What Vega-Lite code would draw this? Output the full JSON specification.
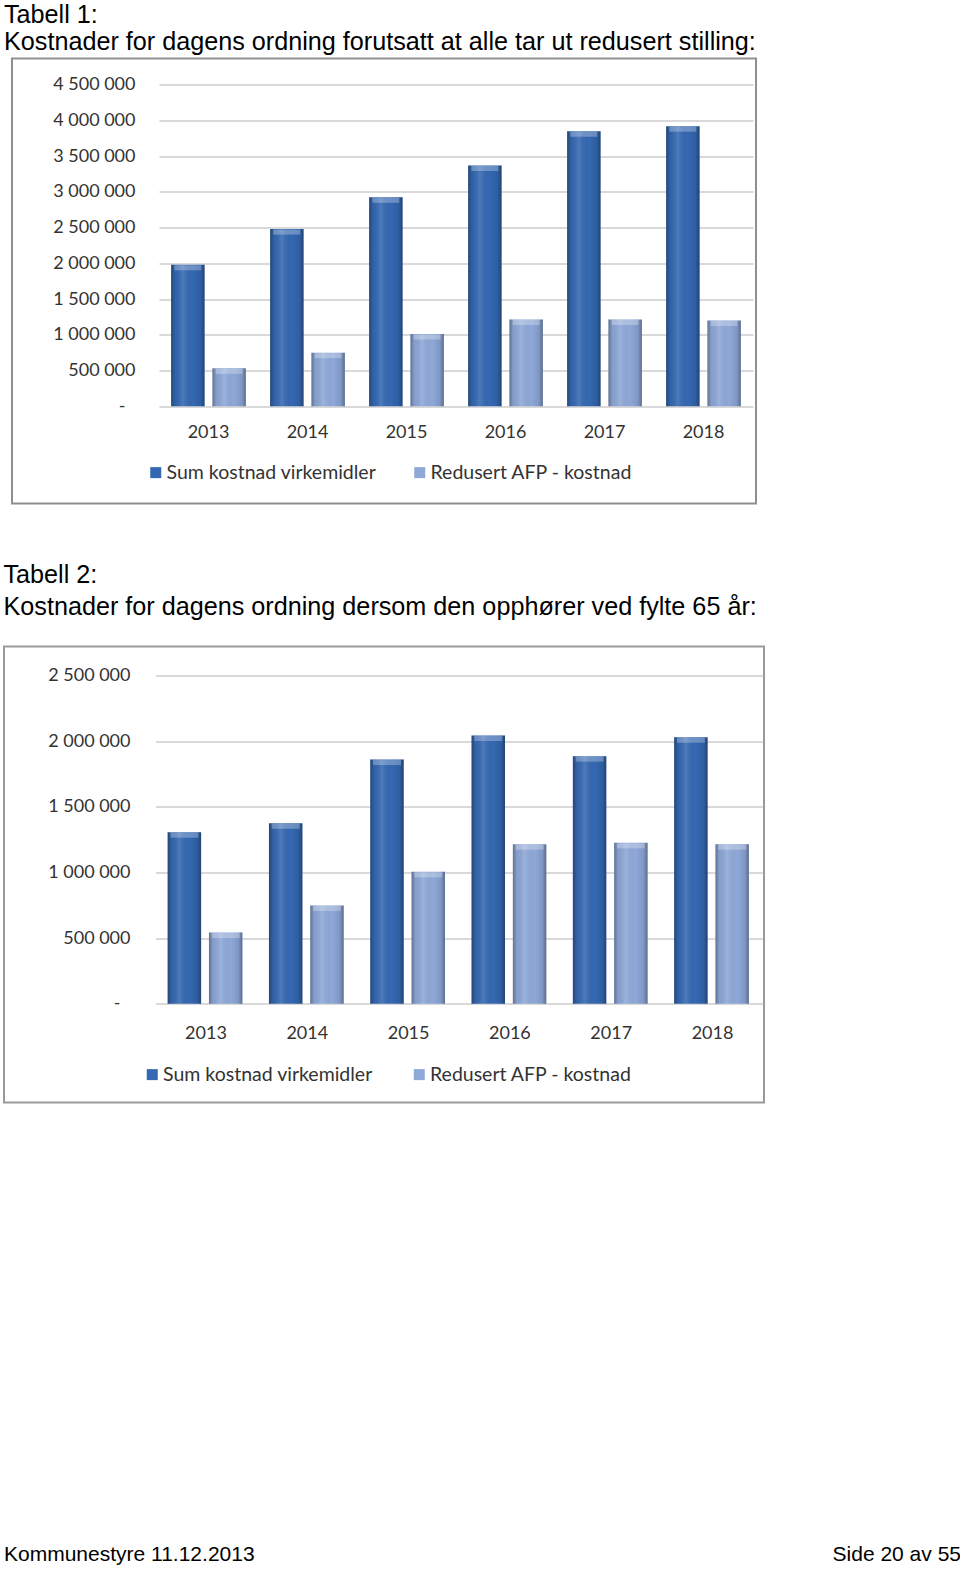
{
  "$schema": "https://vega.github.io/schema/vega-lite/v6.json",
  "background": "white",
  "padding": {"left": 2, "top": 1.5, "right": 0, "bottom": 0},
  "config": {
    "view": {"stroke": null},
    "locale": {"number": {"decimal": ",", "thousands": " ", "grouping": [3], "currency": ["", ""]}},
    "title": {"font": "Liberation Sans", "fontWeight": "normal", "color": "#000000", "anchor": "start", "frame": "group"},
    "axis": {"labelFont": "Lato", "labelFontSize": 18, "labelColor": "#333333"},
    "legend": {"labelFont": "Lato", "labelFontSize": 19.5, "labelColor": "#333333", "labelLimit": 400, "padding": 0}
  },
  "datasets": {
    "t1": [
      {"year": "2013", "series": "Sum kostnad virkemidler", "value": 1980000},
      {"year": "2013", "series": "Redusert AFP - kostnad", "value": 530000},
      {"year": "2014", "series": "Sum kostnad virkemidler", "value": 2480000},
      {"year": "2014", "series": "Redusert AFP - kostnad", "value": 750000},
      {"year": "2015", "series": "Sum kostnad virkemidler", "value": 2925000},
      {"year": "2015", "series": "Redusert AFP - kostnad", "value": 1010000},
      {"year": "2016", "series": "Sum kostnad virkemidler", "value": 3370000},
      {"year": "2016", "series": "Redusert AFP - kostnad", "value": 1215000},
      {"year": "2017", "series": "Sum kostnad virkemidler", "value": 3850000},
      {"year": "2017", "series": "Redusert AFP - kostnad", "value": 1215000},
      {"year": "2018", "series": "Sum kostnad virkemidler", "value": 3920000},
      {"year": "2018", "series": "Redusert AFP - kostnad", "value": 1200000}
    ],
    "t2": [
      {"year": "2013", "series": "Sum kostnad virkemidler", "value": 1307000},
      {"year": "2013", "series": "Redusert AFP - kostnad", "value": 543000},
      {"year": "2014", "series": "Sum kostnad virkemidler", "value": 1375000},
      {"year": "2014", "series": "Redusert AFP - kostnad", "value": 749000},
      {"year": "2015", "series": "Sum kostnad virkemidler", "value": 1860000},
      {"year": "2015", "series": "Redusert AFP - kostnad", "value": 1005000},
      {"year": "2016", "series": "Sum kostnad virkemidler", "value": 2043000},
      {"year": "2016", "series": "Redusert AFP - kostnad", "value": 1215000},
      {"year": "2017", "series": "Sum kostnad virkemidler", "value": 1886000},
      {"year": "2017", "series": "Redusert AFP - kostnad", "value": 1226000},
      {"year": "2018", "series": "Sum kostnad virkemidler", "value": 2030000},
      {"year": "2018", "series": "Redusert AFP - kostnad", "value": 1215000}
    ],
    "footer": [
      {"pos": "left", "label": "Kommunestyre 11.12.2013"},
      {"pos": "right", "label": "Side 20 av 55"}
    ]
  },
  "bounds": "full",
  "spacing": 439,
  "vconcat": [
    {
      "center": true,
      "bounds": "flush",
      "spacing": 143,
      "resolve": {"scale": {"color": "independent"}, "legend": {"color": "independent"}},
      "vconcat": [
        {
          "width": 744,
          "height": 445,
          "view": {"stroke": "#8f8f8f", "strokeWidth": 2},
          "title": {"text": ["Tabell 1:", "Kostnader for dagens ordning forutsatt at alle tar ut redusert stilling:"], "fontSize": 25.2, "lineHeight": 27.6, "dx": -8, "offset": 3},
          "data": {"name": "t1"},
          "encoding": {
            "x": {"field": "year", "type": "nominal", "scale": {"range": [147, 741], "paddingInner": 0.245, "paddingOuter": 0.1225},
                  "axis": {"title": null, "orient": "bottom", "offset": -80, "domain": false, "ticks": false, "tickSize": 0, "labelPadding": 0, "labelAngle": 0, "grid": false}},
            "xOffset": {"field": "series", "type": "nominal", "sort": ["Sum kostnad virkemidler", "Redusert AFP - kostnad"], "scale": {"paddingInner": 0.19}},
            "y": {"field": "value", "type": "quantitative", "scale": {"domain": [0, 4500000], "range": [347.7, 26.3], "nice": false},
                  "axis": {"title": null, "values": [0, 500000, 1000000, 1500000, 2000000, 2500000, 3000000, 3500000, 4000000, 4500000], "format": ",d",
                           "labelExpr": "datum.value === 0 ? '-' : datum.label", "offset": -123, "domain": false, "ticks": false, "tickSize": 0,
                           "labelPadding": {"condition": {"test": "datum.value === 0", "value": 10}, "value": 0},
                           "grid": true, "gridColor": "#b3b3b3", "gridWidth": 1}}
          },
          "layer": [
            {
              "mark": {"type": "bar"},
              "encoding": {
                "color": {"field": "series", "type": "nominal", "sort": ["Sum kostnad virkemidler", "Redusert AFP - kostnad"],
                          "scale": {"range": ["#3468b2", "#8ea8d8"]},
                          "legend": {"title": null, "orient": "none", "legendX": 134, "legendY": 404, "direction": "horizontal", "symbolType": "square", "symbolSize": 121, "columnPadding": 33, "labelOffset": 1, "symbolStrokeWidth": 0}}
              }
            },
            {
              "mark": {"type": "bar", "fill": {"gradient": "linear", "x1": 0, "x2": 1, "y1": 0, "y2": 0,
                "stops": [
                  {"offset": 0, "color": "rgba(0,0,0,0.32)"},
                  {"offset": 0.12, "color": "rgba(0,0,0,0.06)"},
                  {"offset": 0.35, "color": "rgba(255,255,255,0.12)"},
                  {"offset": 0.65, "color": "rgba(0,0,0,0)"},
                  {"offset": 0.88, "color": "rgba(0,0,0,0.1)"},
                  {"offset": 1, "color": "rgba(0,0,0,0.35)"}
                ]}}
            },
            {
              "mark": {"type": "tick", "orient": "horizontal", "thickness": 5, "size": 27, "yOffset": 3, "color": "#ffffff", "opacity": 0.28}
            }
          ]
        },
        {
          "width": 760,
          "height": 456,
          "view": {"stroke": "#9a9a9a", "strokeWidth": 2},
          "title": {"text": ["Tabell 2:", "Kostnader for dagens ordning dersom den opphører ved fylte 65 år:"], "fontSize": 25.2, "lineHeight": 32.6, "dx": -0.5, "offset": 26},
          "data": {"name": "t2"},
          "encoding": {
            "x": {"field": "year", "type": "nominal", "scale": {"range": [151.5, 759], "paddingInner": 0.243, "paddingOuter": 0.12},
                  "axis": {"title": null, "orient": "bottom", "offset": -78, "domain": false, "ticks": false, "tickSize": 0, "labelPadding": 0, "labelAngle": 0, "grid": false}},
            "xOffset": {"field": "series", "type": "nominal", "sort": ["Sum kostnad virkemidler", "Redusert AFP - kostnad"], "scale": {"paddingInner": 0.18}},
            "y": {"field": "value", "type": "quantitative", "scale": {"domain": [0, 2500000], "range": [357.3, 29], "nice": false},
                  "axis": {"title": null, "values": [0, 500000, 1000000, 1500000, 2000000, 2500000], "format": ",d",
                           "labelExpr": "datum.value === 0 ? '-' : datum.label", "offset": -126, "domain": false, "ticks": false, "tickSize": 0,
                           "labelPadding": {"condition": {"test": "datum.value === 0", "value": 10}, "value": 0},
                           "grid": true, "gridColor": "#b3b3b3", "gridWidth": 1}}
          },
          "layer": [
            {
              "mark": {"type": "bar"},
              "encoding": {
                "color": {"field": "series", "type": "nominal", "sort": ["Sum kostnad virkemidler", "Redusert AFP - kostnad"],
                          "scale": {"range": ["#3468b2", "#8ea8d8"]},
                          "legend": {"title": null, "orient": "none", "legendX": 138.5, "legendY": 418, "direction": "horizontal", "symbolType": "square", "symbolSize": 121, "columnPadding": 36, "labelOffset": 1, "symbolStrokeWidth": 0}}
              }
            },
            {
              "mark": {"type": "bar", "fill": {"gradient": "linear", "x1": 0, "x2": 1, "y1": 0, "y2": 0,
                "stops": [
                  {"offset": 0, "color": "rgba(0,0,0,0.32)"},
                  {"offset": 0.12, "color": "rgba(0,0,0,0.06)"},
                  {"offset": 0.35, "color": "rgba(255,255,255,0.12)"},
                  {"offset": 0.65, "color": "rgba(0,0,0,0)"},
                  {"offset": 0.88, "color": "rgba(0,0,0,0.1)"},
                  {"offset": 1, "color": "rgba(0,0,0,0.35)"}
                ]}}
            },
            {
              "mark": {"type": "tick", "orient": "horizontal", "thickness": 5, "size": 28, "yOffset": 3, "color": "#ffffff", "opacity": 0.28}
            }
          ]
        }
      ]
    },
    {
      "width": 957,
      "height": 24,
      "data": {"name": "footer"},
      "encoding": {
        "x": {"field": "pos", "type": "nominal", "scale": {"domain": ["left", "right"], "padding": 0}, "axis": null},
        "text": {"field": "label"}
      },
      "layer": [
        {"transform": [{"filter": "datum.pos === 'left'"}], "mark": {"type": "text", "align": "left", "baseline": "middle", "font": "Liberation Sans", "fontSize": 21, "color": "#000000"}},
        {"transform": [{"filter": "datum.pos === 'right'"}], "mark": {"type": "text", "align": "right", "baseline": "middle", "font": "Liberation Sans", "fontSize": 21, "color": "#000000"}}
      ]
    }
  ]
}
